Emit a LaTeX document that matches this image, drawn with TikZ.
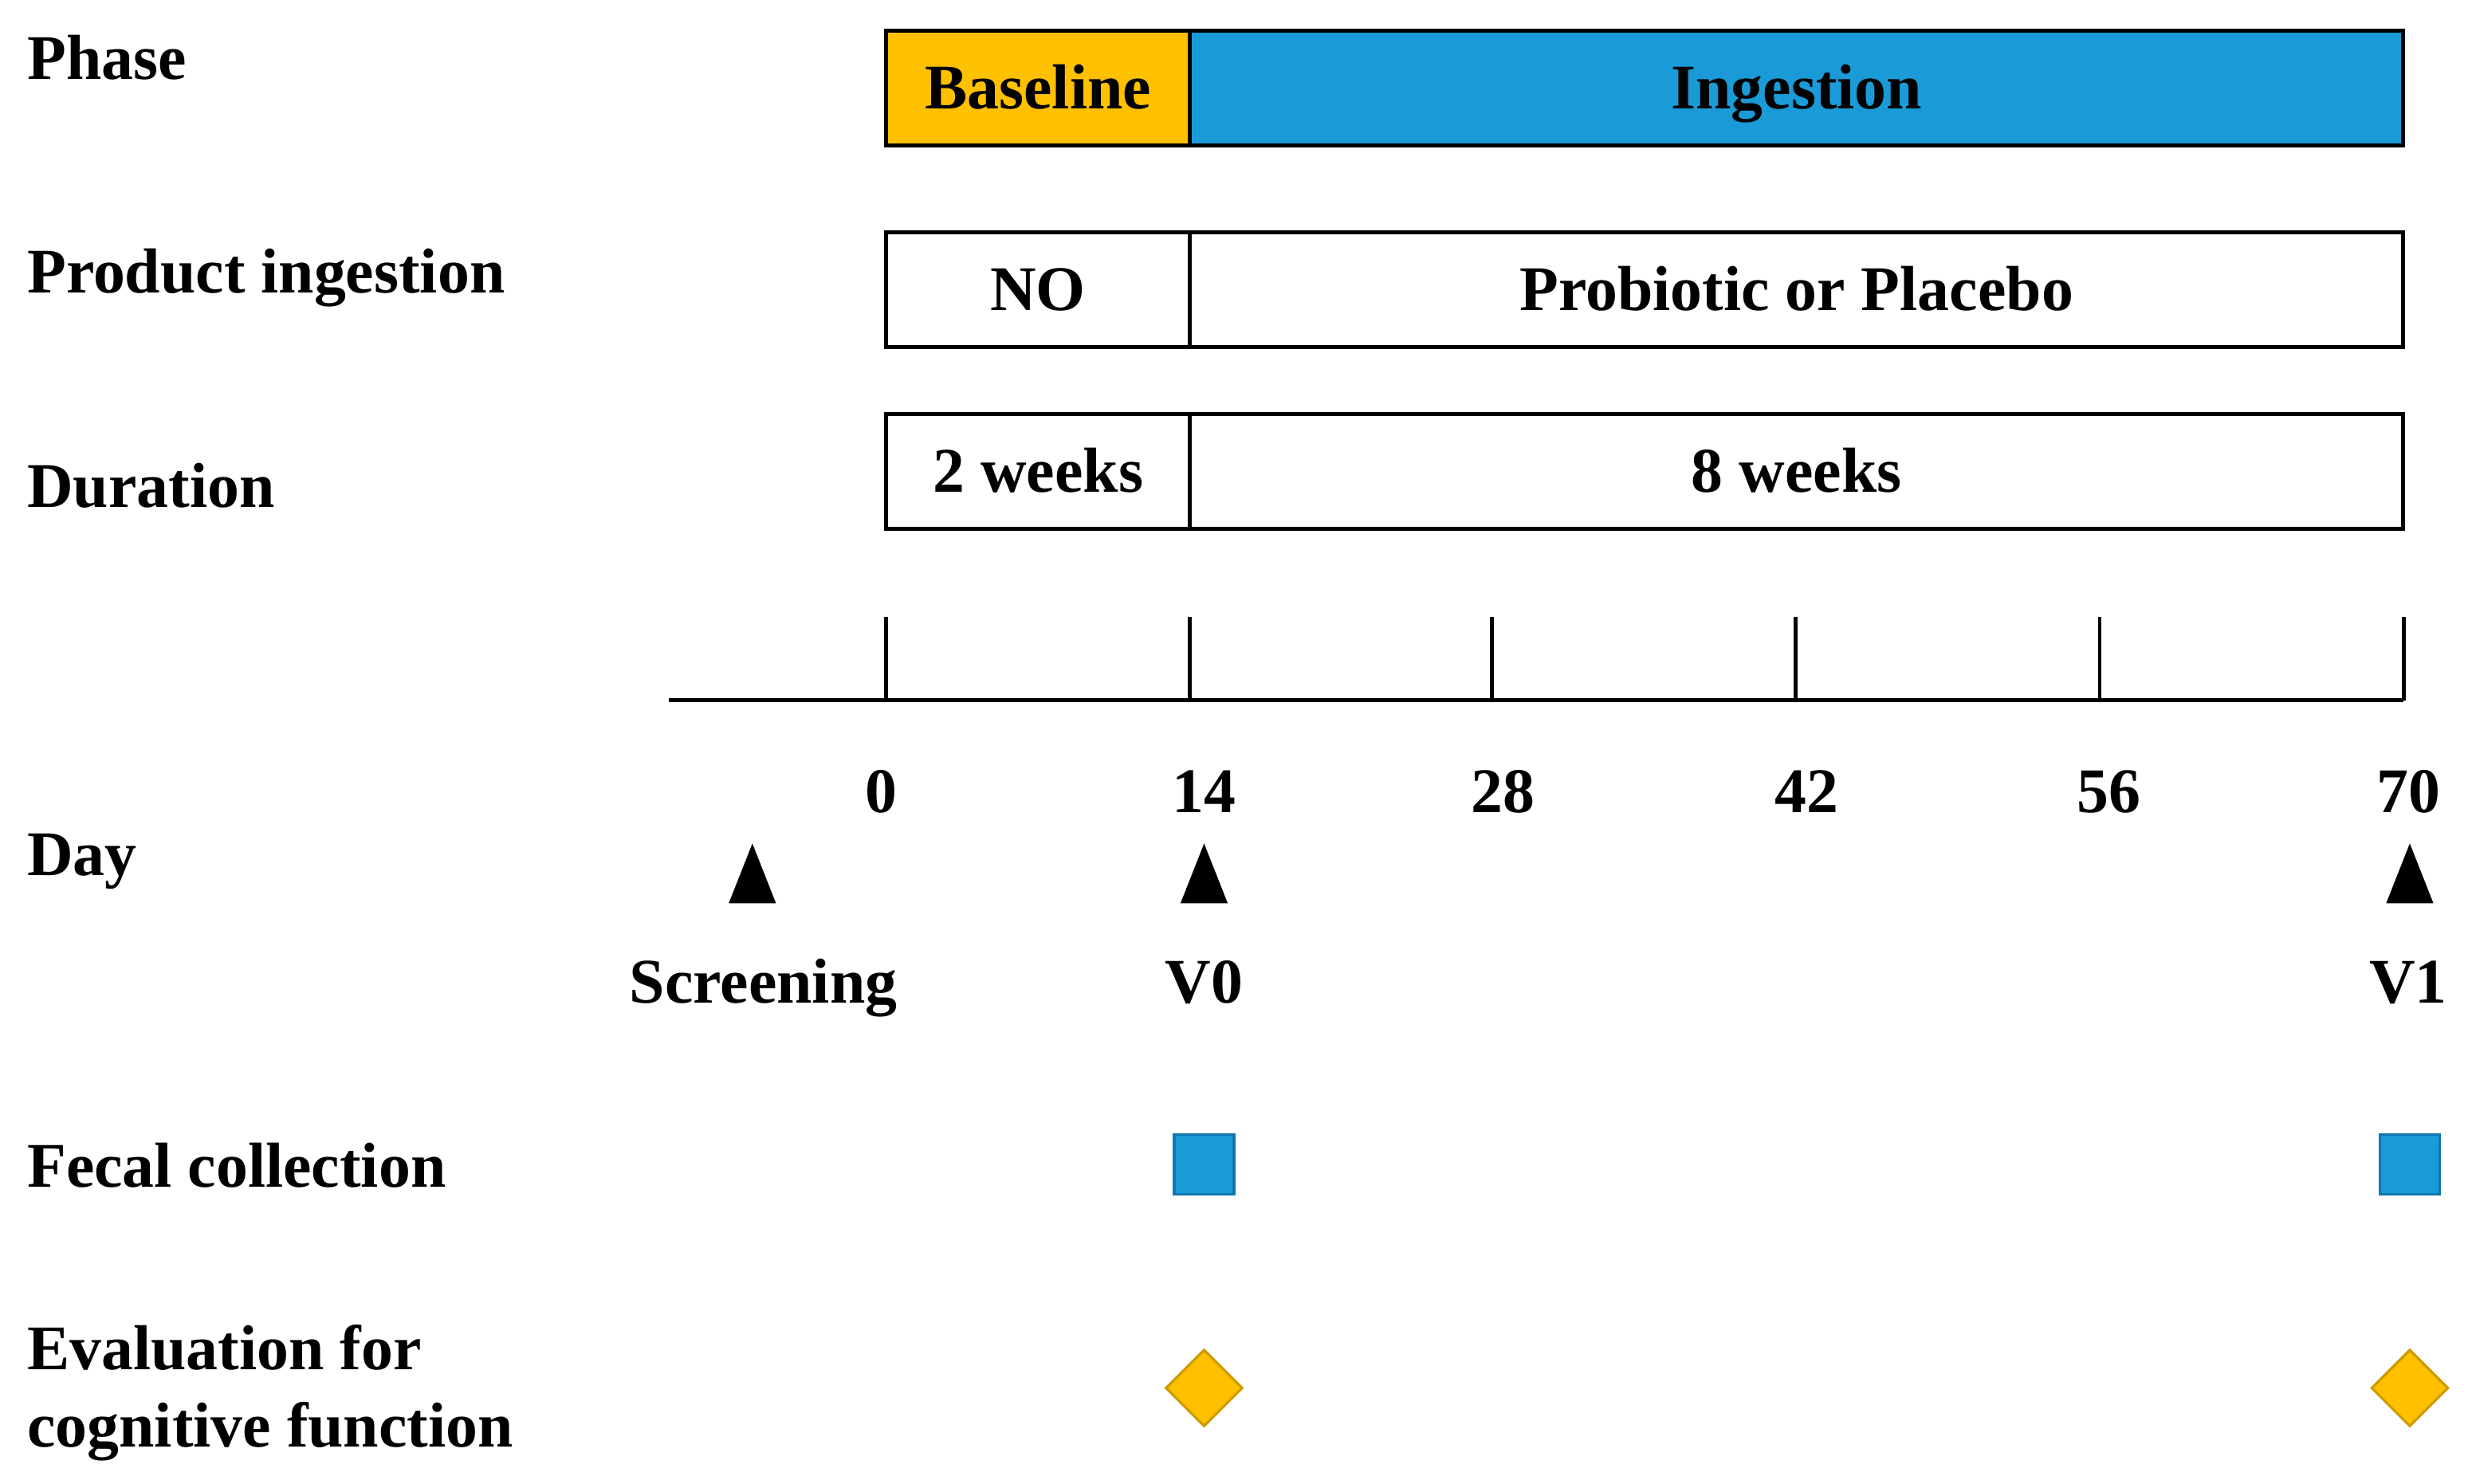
\documentclass[tikz,border=0pt]{standalone}
\usepackage{fontspec}
\setmainfont{Liberation Serif}
\usetikzlibrary{positioning,shapes.geometric}
\definecolor{baseorange}{HTML}{FFC000}
\definecolor{ingblue}{HTML}{1A9BD7}
\definecolor{sqedge}{HTML}{1077B0}
\definecolor{dmedge}{HTML}{CC9A00}
\tikzset{
  bigfont/.style={font=\fontsize{23}{28}\selectfont\bfseries},
  capbox/.style={text height=15.2pt, text depth=0pt},
  rowlabel/.style={bigfont, anchor=west, align=left, inner sep=0pt},
  barbox/.style={bigfont, capbox, draw, line width=1.3pt, minimum height=1.46cm, inner sep=0pt, outer sep=0pt},
  daytext/.style={bigfont, capbox, inner sep=0pt},
  fecal/.style={draw=sqedge, fill=ingblue, line width=0.9pt, minimum size=0.76cm, inner sep=0pt},
  cogn/.style={diamond, draw=dmedge, fill=baseorange, line width=0.9pt, minimum size=0.98cm, inner sep=0pt},
  axisline/.style={line width=1.4pt}
}
\begin{document}
\begin{tikzpicture}[x=0.02cm, y=-0.02cm]
  \useasboundingbox (0,0) rectangle (1568,943);
  % row labels
  \node[rowlabel, capbox] (lphase) at (17,37) {Phase};
  \node[rowlabel, capbox] (lprod) at (17,173) {Product ingestion};
  \node[rowlabel, capbox] (ldur) at (17,309) {Duration};
  \node[rowlabel, capbox] (lday) at (17,543) {Day};
  \node[rowlabel, capbox] (lfec) at (17,741) {Fecal collection};
  \node[rowlabel] (leval) at (17,885) {Evaluation for\\cognitive function};
  % bars
  \node[barbox, fill=baseorange, minimum width=3.86cm] (base) at (659.5,56) {Baseline};
  \node[barbox, fill=ingblue, minimum width=15.42cm, right=0pt of base] (ing) {Ingestion};
  \node[barbox, minimum width=3.86cm] (no) at (659.5,184) {NO};
  \node[barbox, minimum width=15.42cm, right=0pt of no] (prob) {Probiotic or Placebo};
  \node[barbox, minimum width=3.86cm] (two) at (659.5,299.5) {2 weeks};
  \node[barbox, minimum width=15.42cm, right=0pt of two] (eight) {8 weeks};
  % time axis
  \coordinate (axl) at (425,445);
  \coordinate (axr) at (1527,445);
  \draw[axisline] (axl) -- (axr);
  \foreach \tx/\lx/\d in {563/560/0, 756/765/14, 948/955/28, 1141/1148/42, 1334/1340/56, 1527/1530/70}{
    \draw[axisline] (\tx,445) -- (\tx,392);
    \node[daytext] (d\d) at (\lx,503) {\d};
  }
  % visits
  \foreach \vx/\vn/\vt in {478/scr/Screening, 765/vz/V0, 1531/vo/V1}{
    \node[coordinate] (\vn) at (\vx,555) {};
    \fill (\vn) +(0,-19) -- +(15,19) -- +(-15,19) -- cycle;
  }
  \node[daytext] (scrlab) at (485,624) {Screening};
  \node[daytext] (vzlab) at (765,624) {V0};
  \node[daytext] (volab) at (1530,624) {V1};
  % fecal collection and cognitive evaluation
  \node[fecal] (fec0) at (765,740) {};
  \node[fecal] (fec1) at (1531,740) {};
  \node[cogn] (cog0) at (765,882) {};
  \node[cogn] (cog1) at (1531,882) {};
\end{tikzpicture}
\end{document}
